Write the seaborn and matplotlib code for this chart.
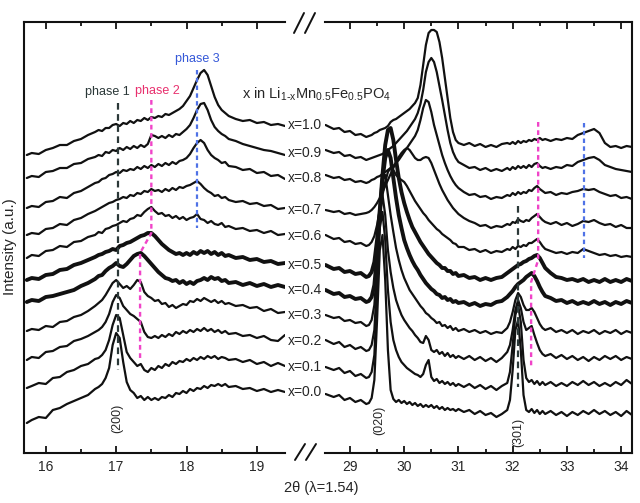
import matplotlib
matplotlib.use("Agg")
import matplotlib.pyplot as plt
from matplotlib.lines import Line2D
import pandas as pd
import seaborn as sns

# compositions x in Li(1-x)Mn0.5Fe0.5PO4, bottom to top
COMPOSITIONS = ["0.0", "0.1", "0.2", "0.3", "0.4", "0.5", "0.6", "0.7", "0.8", "0.9", "1.0"]
THICK = ["0.4", "0.5"]

# 2theta sampling of the two windows
LEFT_TT = [15.73, 15.8, 15.9, 16.0, 16.1, 16.2, 16.3, 16.4, 16.5, 16.6, 16.7,
           16.75, 16.8, 16.85, 16.9, 16.95, 17.0, 17.05, 17.1, 17.15, 17.2, 17.25, 17.3, 17.35,
           17.4, 17.45, 17.5, 17.55, 17.6, 17.65, 17.7, 17.75, 17.8, 17.85, 17.9, 17.95, 18.0,
           18.05, 18.1, 18.15, 18.2, 18.25, 18.3, 18.35, 18.4, 18.45, 18.5, 18.55, 18.6,
           18.7, 18.8, 18.9, 19.0, 19.1, 19.2, 19.3, 19.4]
RIGHT_TT = [28.55, 28.7, 28.8, 28.9, 29.0, 29.1, 29.2, 29.3,
            29.35, 29.4, 29.45, 29.5, 29.55, 29.6, 29.65, 29.7, 29.75, 29.8, 29.85, 29.9,
            29.95, 30.0, 30.05, 30.1, 30.15, 30.2, 30.25, 30.3, 30.35, 30.4, 30.45, 30.5,
            30.55, 30.6, 30.65, 30.7, 30.75, 30.8, 30.85, 30.9, 30.95, 31.0,
            31.1, 31.2, 31.3, 31.4, 31.5, 31.6, 31.7, 31.8, 31.9,
            31.95, 32.0, 32.05, 32.1, 32.15, 32.2, 32.25, 32.3, 32.35, 32.4, 32.45, 32.5, 32.55, 32.6,
            32.7, 32.8, 32.9, 33.0, 33.1, 33.2, 33.3, 33.4, 33.5, 33.6, 33.7, 33.8, 33.9, 34.0, 34.1, 34.2]

# stacked intensities (a.u.), left window 15.7-19.4
L_00 = [30, 33, 36, 35, 43, 45, 49, 52, 55, 58, 64,
        66, 69, 75, 85, 108, 120, 115, 91, 71, 63, 60, 55, 57, 53, 56, 53, 55, 53, 56, 55, 58, 56,
        60, 59, 62, 60, 64, 62, 65, 64, 67, 65, 68, 67, 69, 67, 69, 66,
        67, 64, 65, 62, 64, 61, 63, 61]
L_01 = [65, 67, 70, 69, 75, 76, 81, 83, 87, 89, 94,
        95, 98, 103, 113, 128, 138, 135, 118, 101, 95, 91, 87, 89, 83, 81, 85, 83, 87, 85, 89, 87, 91,
        89, 92, 91, 94, 92, 95, 93, 96, 94, 97, 95, 97, 94, 96, 95, 93,
        94, 91, 93, 89, 91, 87, 90, 87]
L_02 = [93, 96, 95, 101, 102, 106, 107, 112, 114, 117, 121,
        123, 126, 131, 139, 151, 158, 155, 147, 143, 139, 137, 134, 131, 121, 116, 115, 117, 115, 118,
        116, 119, 117, 121, 119, 122, 120, 123, 121, 124, 122, 125, 122, 124, 121, 123, 120, 122, 119,
        120, 117, 118, 115, 117, 113, 112, 118]
L_03 = [122, 124, 123, 127, 126, 131, 132, 136, 138, 142, 147,
        150, 153, 158, 164, 170, 173, 169, 165, 167, 164, 168, 173, 171, 161, 157, 155, 152, 153, 149,
        150, 146, 148, 145, 147, 149, 148, 152, 151, 154, 152, 155, 153, 151, 153, 150, 152, 149, 150,
        147, 148, 145, 146, 142, 144, 140, 141]
L_04 = [151, 153, 152, 156, 157, 159, 161, 163, 167, 170, 174,
        177, 178, 182, 185, 187, 190, 187, 186, 189, 193, 197, 199, 200, 197, 193, 189, 185, 181, 178,
        175, 174, 172, 173, 170, 172, 169, 171, 169, 172, 173, 175, 173, 176, 174, 175, 172, 173, 170,
        171, 168, 170, 167, 169, 166, 168, 166]
L_05 = [173, 175, 174, 178, 179, 183, 184, 188, 190, 193, 196,
        198, 199, 201, 202, 204, 203, 207, 208, 210, 211, 213, 215, 217, 218, 220, 220, 217, 213, 209,
        206, 203, 201, 199, 200, 198, 200, 198, 201, 199, 202, 200, 202, 199, 201, 198, 200, 197, 198,
        195, 196, 193, 194, 191, 192, 189, 190]
L_06 = [195, 198, 197, 202, 203, 207, 206, 211, 212, 216, 218,
        221, 220, 224, 225, 227, 228, 230, 232, 231, 234, 235, 238, 237, 241, 244, 246, 242, 239, 240,
        237, 238, 235, 237, 234, 236, 233, 235, 236, 239, 234, 233, 230, 232, 229, 228, 230, 226, 227,
        224, 225, 222, 223, 220, 222, 218, 219]
L_07 = [218, 220, 219, 224, 225, 229, 228, 233, 235, 239, 242,
        244, 246, 248, 250, 251, 253, 254, 256, 255, 258, 257, 260, 259, 262, 261, 264, 262, 263, 261,
        264, 262, 265, 263, 266, 265, 267, 268, 270, 272, 269, 265, 262, 260, 257, 258, 255, 256, 253,
        251, 252, 249, 250, 247, 248, 244, 245]
L_08 = [245, 247, 246, 251, 252, 256, 255, 260, 262, 266, 270,
        271, 274, 275, 278, 279, 281, 280, 283, 282, 284, 283, 286, 284, 287, 285, 288, 286, 289, 287,
        290, 288, 291, 289, 292, 293, 295, 299, 305, 310, 313, 310, 303, 298, 295, 293, 290, 291, 287,
        286, 283, 284, 280, 281, 277, 278, 274]
L_09 = [275, 277, 276, 281, 282, 285, 285, 289, 290, 294, 296,
        298, 297, 301, 300, 303, 302, 305, 303, 306, 304, 307, 305, 308, 306, 309, 318, 317, 315, 317,
        315, 318, 316, 319, 318, 321, 324, 328, 335, 343, 349, 350, 343, 333, 326, 322, 319, 317, 314,
        312, 309, 307, 305, 303, 302, 300, 298]
L_10 = [298, 300, 299, 303, 305, 308, 308, 312, 314, 318, 321,
        323, 322, 325, 325, 328, 329, 327, 330, 329, 332, 330, 333, 332, 335, 333, 336, 335, 337, 336,
        339, 338, 340, 342, 344, 347, 352, 357, 365, 373, 380, 383, 378, 367, 356, 348, 343, 340, 337,
        334, 332, 333, 330, 331, 328, 329, 327]

# right window 28.5-34.2
R_00 = [59, 56, 58, 53, 55, 51, 53, 49,
        50, 55, 73, 133, 203, 218, 173, 103, 63, 54, 51, 53, 50, 52, 49, 51, 48, 50, 47, 49, 46, 48,
        46, 48, 45, 47, 44, 46, 43, 45, 43, 44, 42, 44,
        41, 43, 39, 42, 38, 40, 36, 39, 43,
        53, 83, 123, 133, 103, 58, 43, 41, 44, 40, 43, 39, 42, 39,
        42, 38, 41, 37, 41, 38, 42, 39, 43, 39, 42, 38, 41, 37, 42, 38]
R_01 = [86, 83, 85, 80, 82, 77, 79, 75,
        76, 81, 98, 158, 225, 241, 213, 163, 131, 113, 103, 96, 91, 88, 85, 83, 81, 79, 78, 76,
        79, 88, 93, 76, 72, 74, 70, 72, 69, 71, 68, 70, 67, 69,
        66, 69, 65, 68, 64, 67, 63, 67, 70,
        81, 108, 138, 148, 131, 93, 75, 71, 73, 69, 72, 68, 71, 68,
        71, 67, 70, 67, 71, 68, 72, 68, 71, 67, 70, 67, 71, 68, 73, 69]
R_02 = [113, 109, 111, 106, 108, 104, 106, 102,
        103, 108, 123, 173, 238, 258, 238, 203, 181, 165, 153, 145, 138, 133, 129, 125, 122, 118,
        115, 111, 110, 117, 113, 103, 101, 103, 99, 101, 97, 100, 96, 98, 95, 97,
        94, 97, 93, 96, 92, 95, 91, 95, 101,
        108, 123, 143, 153, 145, 131, 123, 125, 127, 118, 110, 103, 99, 97,
        99, 95, 98, 94, 97, 93, 96, 92, 96, 93, 97, 94, 97, 93, 96, 94]
R_03 = [138, 135, 136, 132, 133, 130, 131, 127,
        128, 133, 148, 188, 243, 273, 278, 258, 238, 221, 205, 193, 183, 175, 169, 163, 159, 155,
        151, 147, 144, 140, 138, 135, 133, 130, 131, 127, 128, 125, 127, 123, 125, 122,
        124, 121, 123, 120, 122, 119, 121, 120, 125,
        131, 141, 153, 160, 156, 148, 143, 143, 145, 141, 135, 129, 125, 123,
        125, 121, 123, 120, 123, 119, 122, 120, 123, 119, 122, 120, 123, 119, 122, 120]
R_04 = [163, 159, 160, 156, 157, 154, 155, 151,
        152, 156, 168, 198, 238, 273, 295, 303, 295, 275, 255, 238, 225, 213, 205, 198, 192, 187,
        183, 178, 174, 170, 167, 164, 162, 159, 158, 155, 156, 153, 154, 151, 152, 150,
        151, 148, 150, 147, 149, 148, 151, 152, 156,
        159, 162, 166, 169, 171, 173, 176, 178, 180, 177, 172, 166, 161, 157,
        155, 152, 153, 150, 152, 149, 151, 149, 152, 149, 151, 148, 151, 149, 152, 150]
R_05 = [188, 184, 185, 181, 182, 179, 180, 176,
        177, 181, 191, 213, 243, 278, 308, 323, 325, 313, 293, 275, 261, 250, 241, 233, 226, 221,
        216, 211, 207, 203, 199, 196, 193, 190, 188, 185, 185, 182, 182, 179, 180, 177,
        178, 175, 176, 173, 175, 173, 175, 176, 180,
        182, 184, 186, 188, 189, 191, 192, 194, 195, 197, 198, 195, 190, 185,
        180, 176, 175, 173, 174, 172, 174, 171, 173, 171, 174, 171, 173, 171, 174, 172]
R_06 = [218, 214, 215, 211, 212, 209, 210, 207,
        208, 211, 217, 228, 243, 258, 271, 281, 285, 283, 278, 275, 273, 271, 267, 262, 257, 252,
        248, 244, 240, 237, 233, 230, 227, 224, 222, 219, 217, 215, 213, 210, 209, 206,
        206, 203, 204, 201, 203, 200, 202, 201, 204,
        203, 206, 204, 207, 206, 208, 207, 210, 210, 212, 214, 211, 207, 204,
        202, 200, 201, 199, 201, 200, 204, 202, 200, 198, 199, 197, 198, 196, 197, 196]
R_07 = [243, 241, 242, 239, 240, 238, 239, 240,
        241, 243, 246, 250, 255, 261, 267, 273, 279, 285, 291, 296, 300, 303, 305, 303, 299, 295,
        293, 293, 295, 296, 295, 290, 283, 276, 269, 263, 258, 253, 249, 245, 242, 239,
        235, 232, 230, 227, 228, 225, 227, 226, 229,
        228, 231, 230, 234, 232, 231, 233, 232, 235, 237, 239, 236, 233, 231,
        229, 231, 228, 230, 227, 229, 232, 231, 233, 230, 228, 229, 226, 228, 225, 225]
R_08 = [278, 275, 276, 273, 274, 271, 272, 270,
        271, 273, 274, 276, 277, 279, 281, 283, 285, 287, 290, 293, 297, 301, 305, 309, 313, 317,
        323, 333, 345, 353, 351, 341, 328, 318, 308, 298, 290, 283, 277, 272, 268, 265,
        261, 258, 259, 256, 257, 254, 256, 255, 258,
        257, 260, 258, 261, 259, 261, 260, 263, 262, 265, 267, 264, 262, 260,
        261, 258, 260, 259, 261, 262, 264, 263, 264, 261, 259, 257, 258, 255, 256, 254]
R_09 = [303, 300, 301, 297, 298, 295, 296, 293,
        294, 295, 296, 297, 298, 299, 301, 303, 305, 307, 310, 313, 316, 319, 322, 326, 330, 334,
        340, 349, 363, 381, 391, 395, 391, 381, 367, 353, 338, 323, 310, 301, 295, 291,
        288, 285, 286, 283, 285, 282, 284, 282, 285,
        283, 286, 284, 287, 285, 287, 285, 288, 286, 289, 290, 287, 285, 286,
        284, 286, 285, 288, 287, 291, 293, 295, 296, 293, 288, 286, 284, 283, 282, 281]
R_10 = [328, 324, 325, 321, 322, 318, 319, 316,
        317, 318, 320, 321, 323, 324, 325, 327, 331, 333, 334, 336, 338, 340, 342, 344, 347, 350,
        355, 368, 388, 408, 420, 423, 423, 421, 411, 395, 375, 355, 335, 321, 313, 310,
        308, 310, 307, 309, 306, 308, 306, 309, 310,
        309, 311, 309, 312, 310, 312, 311, 313, 312, 314, 313, 315, 313, 314,
        312, 314, 313, 315, 314, 318, 320, 322, 324, 320, 310, 306, 307, 305, 307, 306]

LEFT_SERIES = [L_00, L_01, L_02, L_03, L_04, L_05, L_06, L_07, L_08, L_09, L_10]
RIGHT_SERIES = [R_00, R_01, R_02, R_03, R_04, R_05, R_06, R_07, R_08, R_09, R_10]

# label rows (pixel rows of the x= labels) and phase guide lines (2theta, intensity)
LABEL_ROWS = [392, 367, 341, 315, 290, 265, 236, 210, 178, 153, 125]
PHASE1_L = ([17.02, 17.02], [350, 83])
PHASE2_L = ([17.5, 17.5, 17.34, 17.34], [353, 220, 200, 95])
PHASE3_L = ([18.15, 18.15], [383, 225])
PHASE1_R = ([32.10, 32.10], [247, 66])
PHASE2_R = ([32.47, 32.47, 32.34, 32.34], [331, 193, 171, 85])
PHASE3_R = ([33.32, 33.32], [330, 195])

C_P1 = "#2b3838"
C_P2 = "#f044c8"
C_P2_TXT = "#e8306e"
C_P3 = "#4f72e6"
C_P3_TXT = "#3558d8"


def _long(tt, series):
    frames = []
    for comp, vals in zip(COMPOSITIONS, series):
        frames.append(pd.DataFrame({"two_theta": tt, "intensity": vals, "x": comp}))
    return pd.concat(frames, ignore_index=True)


def main():
    sns.set_style("ticks")
    plt.rcParams["font.family"] = ["Liberation Sans", "DejaVu Sans"]
    plt.rcParams["lines.solid_joinstyle"] = "round"

    left_df = _long(LEFT_TT, LEFT_SERIES)
    right_df = _long(RIGHT_TT, RIGHT_SERIES)

    W, H = 640, 503
    fig = plt.figure(figsize=(6.4, 5.03), dpi=100)
    ax1 = fig.add_axes([24 / W, 50 / H, 261 / W, 431 / H])
    ax2 = fig.add_axes([325 / W, 50 / H, 307 / W, 431 / H])

    palette = {c: "#111111" for c in COMPOSITIONS}
    sizes = {c: (2.8 if c in THICK else 1.6) for c in COMPOSITIONS}
    for ax, df in ((ax1, left_df), (ax2, right_df)):
        sns.lineplot(data=df, x="two_theta", y="intensity", hue="x", size="x",
                     palette=palette, sizes=sizes, estimator=None, sort=False,
                     legend=False, ax=ax)

    ax1.set_xlim(15.69, 19.40)
    ax2.set_xlim(28.54, 34.20)
    ax1.spines["right"].set_visible(False)
    ax2.spines["left"].set_visible(False)
    ax1.set_xticks([16, 17, 18, 19])
    ax1.set_xticks([16.5, 17.5, 18.5], minor=True)
    ax2.set_xticks([29, 30, 31, 32, 33, 34])
    ax2.set_xticks([29.5, 30.5, 31.5, 32.5, 33.5], minor=True)
    for ax in (ax1, ax2):
        ax.set_ylim(0, 431)
        ax.set_yticks([])
        ax.set_xlabel("")
        ax.set_ylabel("")
        for s in ax.spines.values():
            s.set_linewidth(1.5)
            s.set_color("#111111")
        ax.tick_params(axis="x", which="both", direction="in", top=True, bottom=True,
                       width=1.3, labelsize=10, pad=5, color="#111111")
        ax.tick_params(axis="x", which="major", length=5)
        ax.tick_params(axis="x", which="minor", length=3)

    # phase guide lines
    ax1.plot(*PHASE1_L, color=C_P1, lw=1.6, ls=(0, (3, 2)))
    ax1.plot(*PHASE2_L, color=C_P2, lw=1.7, ls=(0, (2, 1.5)))
    ax1.plot(*PHASE3_L, color=C_P3, lw=1.6, ls=(0, (2, 1.5)))
    ax2.plot(*PHASE1_R, color=C_P1, lw=1.6, ls=(0, (3, 2)))
    ax2.plot(*PHASE2_R, color=C_P2, lw=1.7, ls=(0, (2, 1.5)))
    ax2.plot(*PHASE3_R, color=C_P3, lw=1.6, ls=(0, (2, 1.5)))

    ax1.text(16.87, 361, "phase 1", color=C_P1, fontsize=9, ha="center", va="center")
    ax1.text(17.59, 362, "phase 2", color=C_P2_TXT, fontsize=9, ha="center", va="center")
    ax1.text(18.15, 394, "phase 3", color=C_P3_TXT, fontsize=9, ha="center", va="center")

    ax1.text(17.02, 35, "(200)", rotation=90, fontsize=9, ha="center", va="center")
    ax2.text(29.535, 33, "(020)", rotation=90, fontsize=9, ha="center", va="center")
    ax2.text(32.10, 21, "(301)", rotation=90, fontsize=9, ha="center", va="center")

    for comp, row in zip(COMPOSITIONS, LABEL_ROWS):
        fig.text(288 / W, 1 - row / H, f"x={comp}", fontsize=10, ha="left", va="center")

    fig.text(242 / W, 1 - 98 / H,
             r"x in Li$_\mathregular{1\text{-}x}$Mn$_\mathregular{0.5}$Fe$_\mathregular{0.5}$PO$_\mathregular{4}$",
             fontsize=10.5, ha="left", va="baseline")

    fig.text(321 / W, 1 - 488 / H, "2θ (λ=1.54)", fontsize=10.5, ha="center", va="center")
    fig.text(10 / W, 1 - 247 / H, "Intensity (a.u.)", fontsize=11, rotation=90,
             ha="center", va="center")

    # axis break marks
    for (x0, y0, x1, y1) in [(294, 33, 304, 13), (305, 33, 315, 13),
                             (295, 460, 305, 444), (306, 460, 316, 444)]:
        fig.add_artist(Line2D([x0 / W, x1 / W], [1 - y0 / H, 1 - y1 / H],
                              transform=fig.transFigure, color="#111111", lw=1.4))

    fig.savefig("out.png", dpi=100)
    plt.close(fig)


if __name__ == "__main__":
    main()
